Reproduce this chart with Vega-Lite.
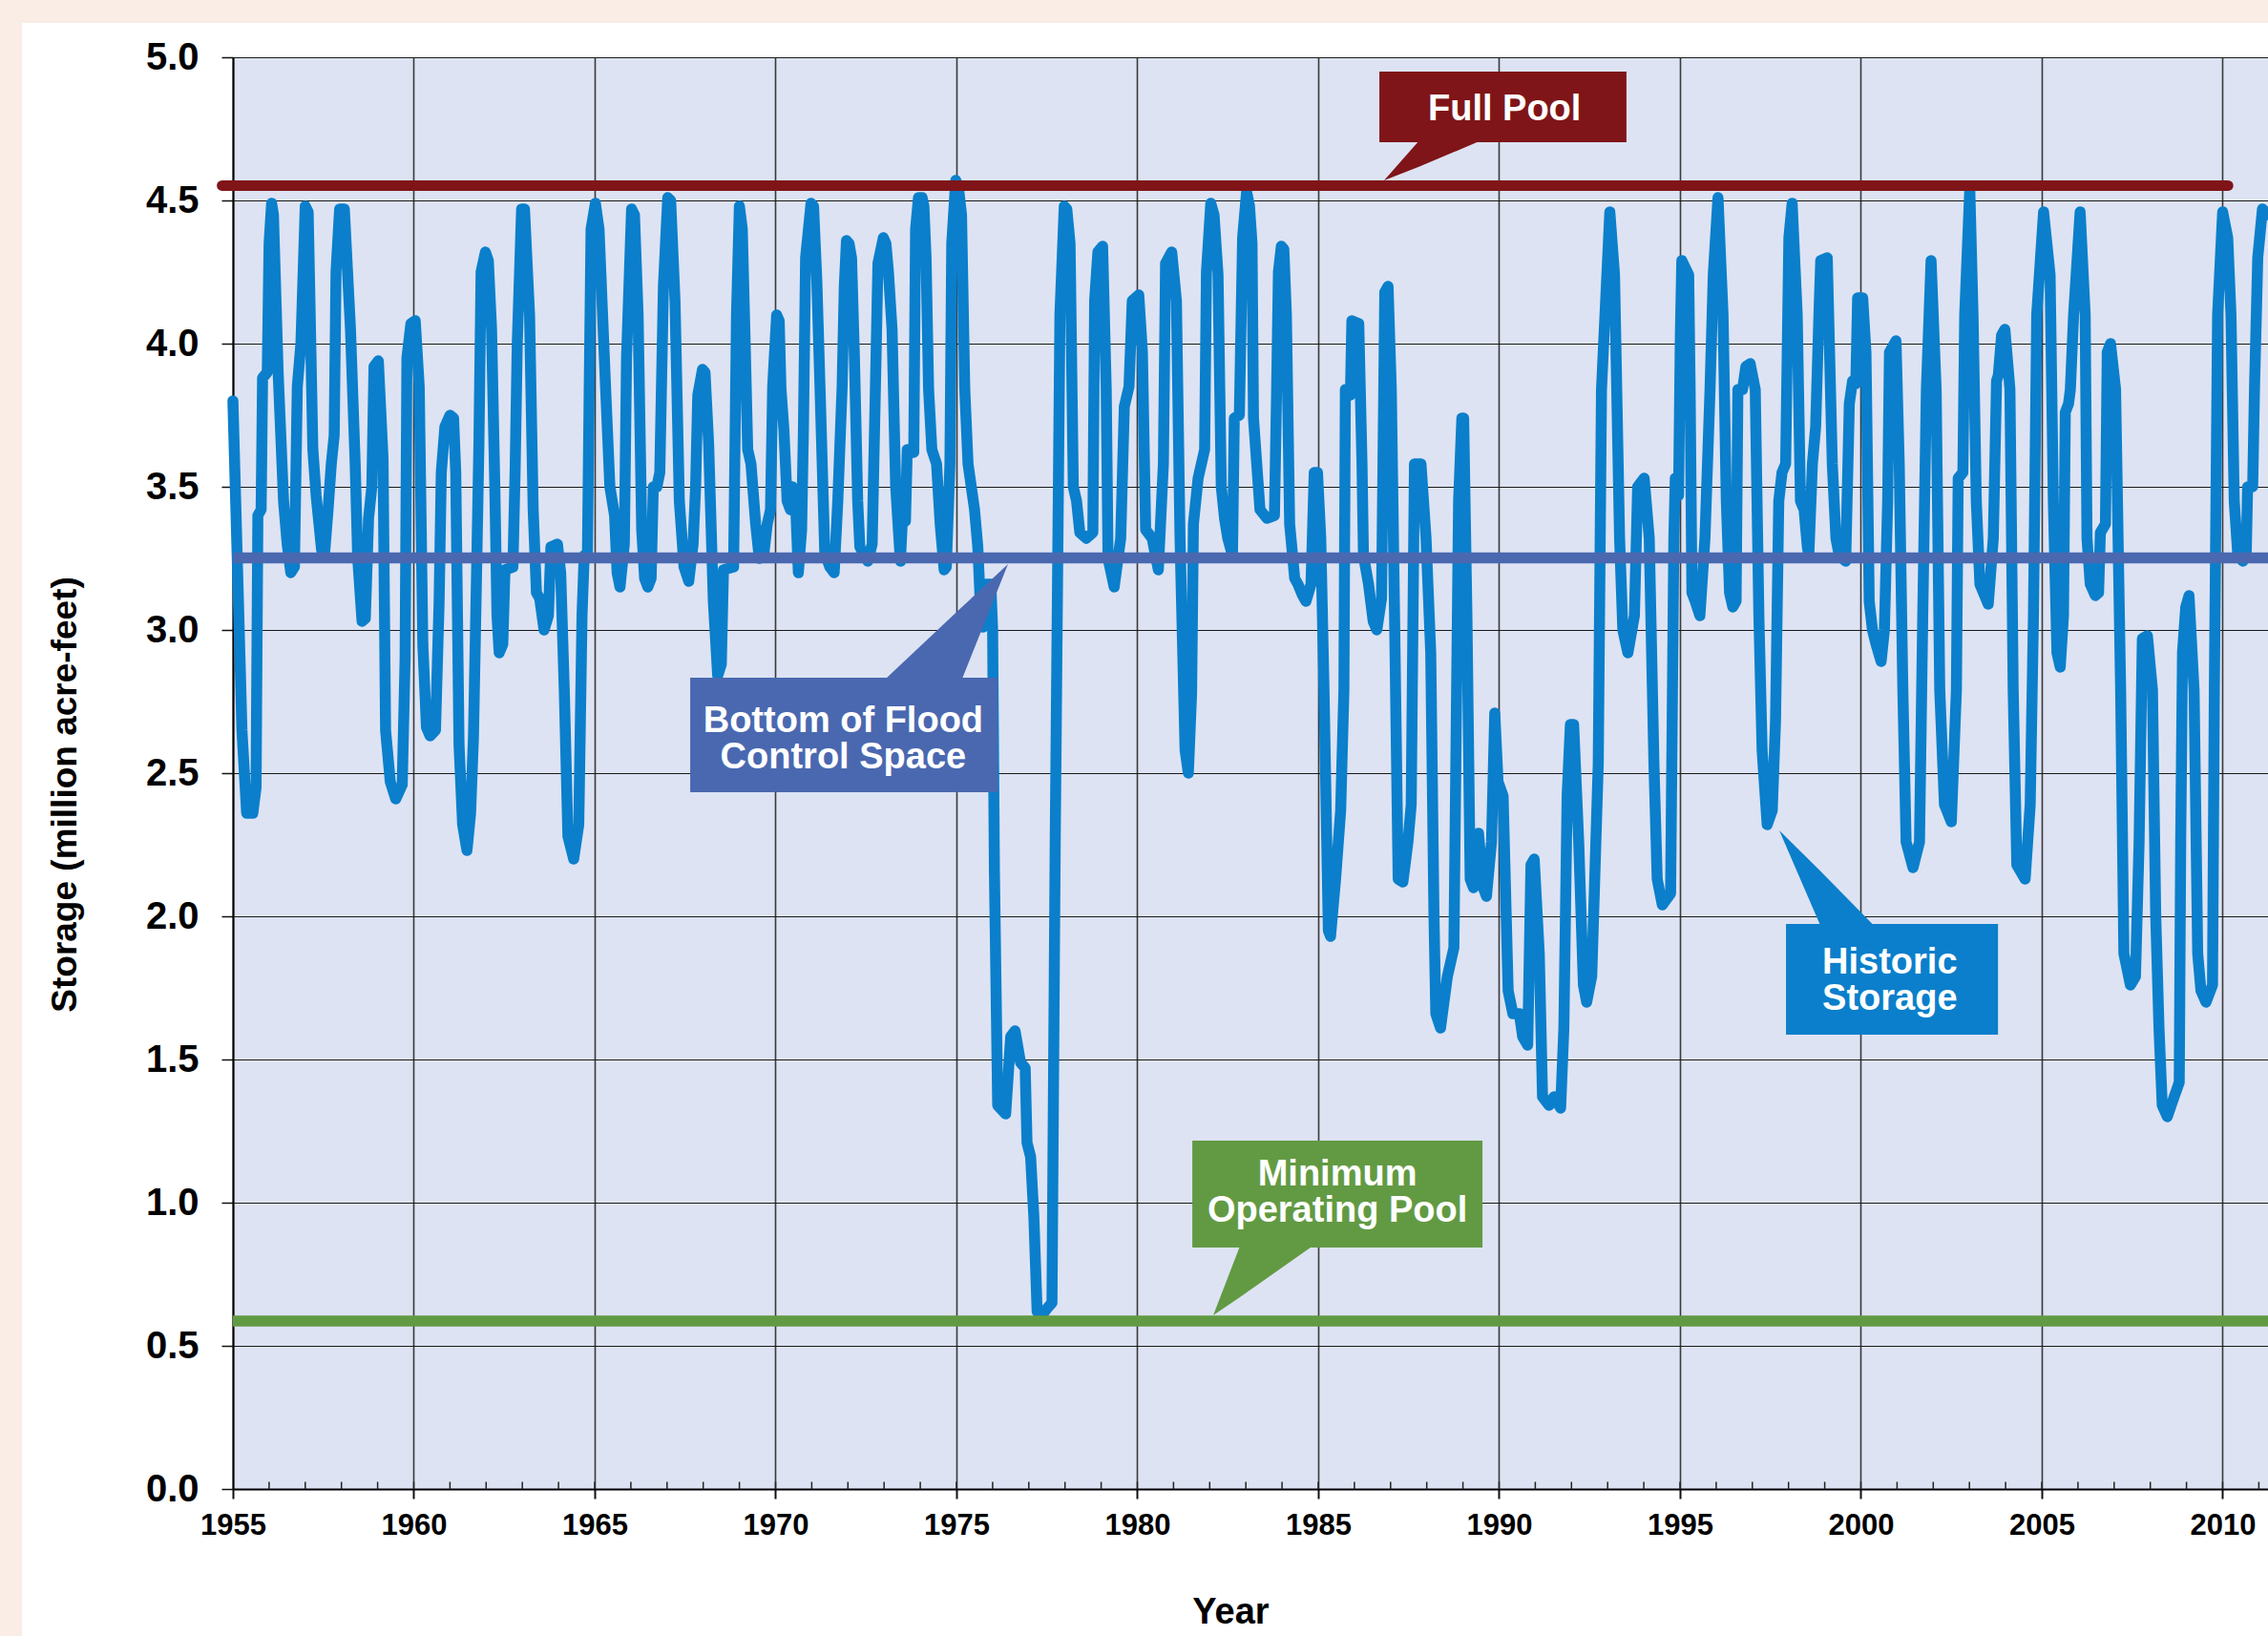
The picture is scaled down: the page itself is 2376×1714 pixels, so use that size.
{
  "$schema": "https://vega.github.io/schema/vega-lite/v6.json",
  "width": 2132,
  "height": 1500,
  "autosize": {"type": "none"},
  "padding": {"left": 244, "top": 60, "right": 0, "bottom": 154},
  "background": "#ffffff",
  "config": {
    "view": {"fill": "#dde3f3", "stroke": null},
    "font": "Liberation Sans",
    "axis": {"labelFont": "Liberation Sans", "titleFont": "Liberation Sans", "labelColor": "#000000", "titleColor": "#000000", "labelFontWeight": "bold", "titleFontWeight": "bold"},
    "axisX": {"domainColor": "#000000", "domainWidth": 2, "tickColor": "#111111", "tickWidth": 2, "tickSize": 10, "labelFontSize": 31, "labelPadding": 13, "gridColor": "#3a3a3a", "gridWidth": 1.6, "gridOpacity": 1, "titleFontSize": 38},
    "axisY": {"domainColor": "#000000", "domainWidth": 2, "tickColor": "#111111", "tickWidth": 1.5, "tickSize": 12, "labelFontSize": 40, "labelPadding": 24, "gridColor": "#1a1a1a", "gridWidth": 1.2, "gridOpacity": 1, "titleFontSize": 37}
  },
  "datasets": {
    "storage": [
      {"t":1955.00,"v":3.80},{"t":1955.12,"v":3.25},{"t":1955.25,"v":2.65},{"t":1955.38,"v":2.36},{"t":1955.55,"v":2.36},{"t":1955.64,"v":2.45},{"t":1955.69,"v":3.40},{"t":1955.78,"v":3.42},{"t":1955.82,"v":3.88},{"t":1955.95,"v":3.90},
      {"t":1956.00,"v":4.35},{"t":1956.07,"v":4.49},{"t":1956.12,"v":4.45},{"t":1956.25,"v":3.90},{"t":1956.40,"v":3.45},{"t":1956.50,"v":3.30},{"t":1956.60,"v":3.20},{"t":1956.70,"v":3.22},{"t":1956.78,"v":3.85},{"t":1956.88,"v":4.00},
      {"t":1957.00,"v":4.48},{"t":1957.08,"v":4.46},{"t":1957.21,"v":3.63},{"t":1957.30,"v":3.47},{"t":1957.45,"v":3.28},{"t":1957.53,"v":3.26},{"t":1957.63,"v":3.42},{"t":1957.72,"v":3.58},{"t":1957.80,"v":3.68},{"t":1957.85,"v":4.25},{"t":1957.95,"v":4.47},
      {"t":1958.08,"v":4.47},{"t":1958.25,"v":4.05},{"t":1958.38,"v":3.58},{"t":1958.45,"v":3.25},{"t":1958.57,"v":3.03},{"t":1958.66,"v":3.04},{"t":1958.75,"v":3.39},{"t":1958.84,"v":3.50},{"t":1958.90,"v":3.92},
      {"t":1959.02,"v":3.94},{"t":1959.15,"v":3.60},{"t":1959.22,"v":2.65},{"t":1959.35,"v":2.47},{"t":1959.50,"v":2.41},{"t":1959.68,"v":2.46},{"t":1959.76,"v":2.90},{"t":1959.81,"v":3.95},{"t":1959.92,"v":4.07},
      {"t":1960.04,"v":4.08},{"t":1960.15,"v":3.85},{"t":1960.25,"v":2.95},{"t":1960.35,"v":2.66},{"t":1960.45,"v":2.63},{"t":1960.60,"v":2.65},{"t":1960.70,"v":3.10},{"t":1960.76,"v":3.55},{"t":1960.86,"v":3.71},
      {"t":1961.00,"v":3.75},{"t":1961.10,"v":3.74},{"t":1961.16,"v":3.55},{"t":1961.25,"v":2.60},{"t":1961.35,"v":2.32},{"t":1961.47,"v":2.23},{"t":1961.57,"v":2.36},{"t":1961.65,"v":2.63},{"t":1961.75,"v":3.30},{"t":1961.80,"v":3.65},{"t":1961.86,"v":4.25},{"t":1961.98,"v":4.32},
      {"t":1962.06,"v":4.29},{"t":1962.15,"v":4.05},{"t":1962.24,"v":3.50},{"t":1962.30,"v":3.05},{"t":1962.36,"v":2.92},{"t":1962.46,"v":2.95},{"t":1962.52,"v":3.21},{"t":1962.74,"v":3.22},{"t":1962.80,"v":3.55},{"t":1962.86,"v":4.00},{"t":1962.98,"v":4.47},
      {"t":1963.06,"v":4.47},{"t":1963.20,"v":4.10},{"t":1963.30,"v":3.42},{"t":1963.39,"v":3.13},{"t":1963.48,"v":3.11},{"t":1963.60,"v":3.00},{"t":1963.72,"v":3.05},{"t":1963.79,"v":3.29},{"t":1963.97,"v":3.30},
      {"t":1964.06,"v":3.20},{"t":1964.16,"v":2.79},{"t":1964.26,"v":2.28},{"t":1964.42,"v":2.20},{"t":1964.56,"v":2.32},{"t":1964.65,"v":3.05},{"t":1964.71,"v":3.26},{"t":1964.80,"v":3.27},{"t":1964.85,"v":3.85},{"t":1964.90,"v":4.40},
      {"t":1965.02,"v":4.49},{"t":1965.12,"v":4.40},{"t":1965.30,"v":3.85},{"t":1965.42,"v":3.50},{"t":1965.55,"v":3.40},{"t":1965.62,"v":3.20},{"t":1965.70,"v":3.15},{"t":1965.82,"v":3.30},{"t":1965.88,"v":3.95},
      {"t":1966.02,"v":4.47},{"t":1966.10,"v":4.45},{"t":1966.20,"v":4.10},{"t":1966.30,"v":3.35},{"t":1966.38,"v":3.18},{"t":1966.47,"v":3.15},{"t":1966.56,"v":3.18},{"t":1966.62,"v":3.50},{"t":1966.72,"v":3.50},{"t":1966.80,"v":3.55},{"t":1966.90,"v":4.20},
      {"t":1967.02,"v":4.51},{"t":1967.10,"v":4.50},{"t":1967.22,"v":4.15},{"t":1967.34,"v":3.45},{"t":1967.47,"v":3.22},{"t":1967.60,"v":3.17},{"t":1967.72,"v":3.30},{"t":1967.79,"v":3.50},{"t":1967.85,"v":3.82},{"t":1967.98,"v":3.91},
      {"t":1968.05,"v":3.90},{"t":1968.15,"v":3.65},{"t":1968.28,"v":3.10},{"t":1968.40,"v":2.84},{"t":1968.50,"v":2.88},{"t":1968.56,"v":3.21},{"t":1968.84,"v":3.22},{"t":1968.92,"v":4.10},
      {"t":1969.00,"v":4.48},{"t":1969.08,"v":4.40},{"t":1969.15,"v":4.05},{"t":1969.23,"v":3.63},{"t":1969.32,"v":3.58},{"t":1969.45,"v":3.37},{"t":1969.55,"v":3.25},{"t":1969.68,"v":3.27},{"t":1969.77,"v":3.37},{"t":1969.86,"v":3.42},{"t":1969.92,"v":3.85},
      {"t":1970.03,"v":4.10},{"t":1970.10,"v":4.08},{"t":1970.15,"v":3.84},{"t":1970.23,"v":3.70},{"t":1970.32,"v":3.45},{"t":1970.41,"v":3.42},{"t":1970.46,"v":3.50},{"t":1970.55,"v":3.45},{"t":1970.63,"v":3.20},{"t":1970.72,"v":3.35},{"t":1970.77,"v":3.70},{"t":1970.83,"v":4.30},{"t":1970.98,"v":4.49},
      {"t":1971.05,"v":4.48},{"t":1971.14,"v":4.22},{"t":1971.23,"v":3.84},{"t":1971.36,"v":3.27},{"t":1971.50,"v":3.22},{"t":1971.62,"v":3.20},{"t":1971.72,"v":3.45},{"t":1971.84,"v":3.85},{"t":1971.90,"v":4.20},{"t":1971.96,"v":4.36},
      {"t":1972.03,"v":4.35},{"t":1972.10,"v":4.30},{"t":1972.18,"v":3.95},{"t":1972.27,"v":3.45},{"t":1972.33,"v":3.29},{"t":1972.45,"v":3.26},{"t":1972.55,"v":3.24},{"t":1972.67,"v":3.30},{"t":1972.76,"v":3.85},{"t":1972.83,"v":4.28},{"t":1972.98,"v":4.37},
      {"t":1973.05,"v":4.35},{"t":1973.12,"v":4.25},{"t":1973.22,"v":4.05},{"t":1973.32,"v":3.50},{"t":1973.45,"v":3.24},{"t":1973.50,"v":3.37},{"t":1973.59,"v":3.38},{"t":1973.64,"v":3.63},{"t":1973.82,"v":3.62},{"t":1973.87,"v":4.40},{"t":1973.95,"v":4.51},
      {"t":1974.05,"v":4.51},{"t":1974.10,"v":4.48},{"t":1974.16,"v":4.30},{"t":1974.23,"v":3.84},{"t":1974.32,"v":3.63},{"t":1974.45,"v":3.58},{"t":1974.55,"v":3.37},{"t":1974.66,"v":3.21},{"t":1974.72,"v":3.22},{"t":1974.82,"v":3.58},{"t":1974.87,"v":4.35},{"t":1974.98,"v":4.57},
      {"t":1975.05,"v":4.55},{"t":1975.14,"v":4.45},{"t":1975.23,"v":3.84},{"t":1975.32,"v":3.58},{"t":1975.50,"v":3.42},{"t":1975.59,"v":3.29},{"t":1975.65,"v":3.12},{"t":1975.73,"v":3.01},{"t":1975.82,"v":3.16},{"t":1975.95,"v":3.16},
      {"t":1976.00,"v":3.00},{"t":1976.05,"v":2.15},{"t":1976.14,"v":1.34},{"t":1976.36,"v":1.31},{"t":1976.50,"v":1.58},{"t":1976.62,"v":1.60},{"t":1976.77,"v":1.49},{"t":1976.90,"v":1.47},{"t":1976.95,"v":1.21},
      {"t":1977.05,"v":1.16},{"t":1977.14,"v":0.95},{"t":1977.23,"v":0.62},{"t":1977.32,"v":0.60},{"t":1977.50,"v":0.63},{"t":1977.64,"v":0.65},{"t":1977.73,"v":2.26},{"t":1977.86,"v":4.10},{"t":1977.98,"v":4.48},
      {"t":1978.05,"v":4.47},{"t":1978.14,"v":4.35},{"t":1978.23,"v":3.50},{"t":1978.32,"v":3.45},{"t":1978.41,"v":3.34},{"t":1978.59,"v":3.32},{"t":1978.77,"v":3.34},{"t":1978.82,"v":4.15},{"t":1978.91,"v":4.32},
      {"t":1979.04,"v":4.34},{"t":1979.14,"v":3.84},{"t":1979.19,"v":3.25},{"t":1979.36,"v":3.15},{"t":1979.54,"v":3.32},{"t":1979.64,"v":3.78},{"t":1979.77,"v":3.85},{"t":1979.86,"v":4.15},
      {"t":1980.04,"v":4.17},{"t":1980.14,"v":3.97},{"t":1980.23,"v":3.35},{"t":1980.41,"v":3.32},{"t":1980.58,"v":3.21},{"t":1980.72,"v":3.58},{"t":1980.78,"v":4.28},{"t":1980.95,"v":4.32},
      {"t":1981.08,"v":4.15},{"t":1981.18,"v":3.32},{"t":1981.32,"v":2.58},{"t":1981.41,"v":2.50},{"t":1981.50,"v":2.78},{"t":1981.55,"v":3.37},{"t":1981.68,"v":3.53},{"t":1981.86,"v":3.63},{"t":1981.91,"v":4.25},
      {"t":1982.03,"v":4.49},{"t":1982.12,"v":4.45},{"t":1982.23,"v":4.24},{"t":1982.32,"v":3.50},{"t":1982.41,"v":3.39},{"t":1982.50,"v":3.32},{"t":1982.63,"v":3.26},{"t":1982.68,"v":3.74},{"t":1982.82,"v":3.75},{"t":1982.91,"v":4.37},
      {"t":1983.02,"v":4.53},{"t":1983.10,"v":4.48},{"t":1983.17,"v":4.35},{"t":1983.21,"v":3.74},{"t":1983.30,"v":3.58},{"t":1983.39,"v":3.42},{"t":1983.58,"v":3.39},{"t":1983.79,"v":3.40},{"t":1983.85,"v":3.84},{"t":1983.90,"v":4.25},{"t":1983.98,"v":4.34},
      {"t":1984.05,"v":4.33},{"t":1984.12,"v":4.10},{"t":1984.21,"v":3.37},{"t":1984.35,"v":3.18},{"t":1984.44,"v":3.16},{"t":1984.57,"v":3.12},{"t":1984.66,"v":3.10},{"t":1984.80,"v":3.16},{"t":1984.89,"v":3.55},{"t":1984.98,"v":3.55},
      {"t":1985.07,"v":3.32},{"t":1985.16,"v":2.79},{"t":1985.28,"v":1.95},{"t":1985.34,"v":1.93},{"t":1985.48,"v":2.13},{"t":1985.62,"v":2.37},{"t":1985.71,"v":2.79},{"t":1985.75,"v":3.84},{"t":1985.89,"v":3.82},{"t":1985.93,"v":4.08},
      {"t":1986.12,"v":4.07},{"t":1986.21,"v":3.58},{"t":1986.25,"v":3.26},{"t":1986.39,"v":3.16},{"t":1986.52,"v":3.03},{"t":1986.62,"v":3.00},{"t":1986.75,"v":3.11},{"t":1986.84,"v":4.18},{"t":1986.93,"v":4.20},
      {"t":1987.02,"v":3.84},{"t":1987.11,"v":3.05},{"t":1987.21,"v":2.13},{"t":1987.34,"v":2.12},{"t":1987.48,"v":2.26},{"t":1987.57,"v":2.39},{"t":1987.66,"v":3.58},{"t":1987.84,"v":3.58},{"t":1987.98,"v":3.32},
      {"t":1988.11,"v":2.92},{"t":1988.20,"v":2.00},{"t":1988.25,"v":1.66},{"t":1988.38,"v":1.61},{"t":1988.57,"v":1.79},{"t":1988.66,"v":1.84},{"t":1988.75,"v":1.89},{"t":1988.88,"v":3.45},{"t":1988.97,"v":3.74},
      {"t":1989.02,"v":3.74},{"t":1989.11,"v":3.05},{"t":1989.20,"v":2.13},{"t":1989.29,"v":2.10},{"t":1989.43,"v":2.29},{"t":1989.56,"v":2.10},{"t":1989.65,"v":2.07},{"t":1989.79,"v":2.26},{"t":1989.88,"v":2.71},{"t":1989.97,"v":2.47},
      {"t":1990.11,"v":2.42},{"t":1990.25,"v":1.74},{"t":1990.38,"v":1.66},{"t":1990.56,"v":1.66},{"t":1990.65,"v":1.58},{"t":1990.79,"v":1.55},{"t":1990.88,"v":2.18},{"t":1990.97,"v":2.20},
      {"t":1991.11,"v":1.87},{"t":1991.20,"v":1.37},{"t":1991.38,"v":1.34},{"t":1991.52,"v":1.37},{"t":1991.70,"v":1.33},{"t":1991.79,"v":1.61},{"t":1991.88,"v":2.42},{"t":1991.97,"v":2.67},
      {"t":1992.06,"v":2.67},{"t":1992.20,"v":2.26},{"t":1992.33,"v":1.76},{"t":1992.42,"v":1.70},{"t":1992.56,"v":1.79},{"t":1992.74,"v":2.53},{"t":1992.83,"v":3.84},
      {"t":1993.06,"v":4.46},{"t":1993.19,"v":4.24},{"t":1993.33,"v":3.32},{"t":1993.42,"v":3.00},{"t":1993.56,"v":2.92},{"t":1993.74,"v":3.05},{"t":1993.83,"v":3.50},
      {"t":1994.01,"v":3.53},{"t":1994.15,"v":3.32},{"t":1994.28,"v":2.53},{"t":1994.37,"v":2.13},{"t":1994.51,"v":2.04},{"t":1994.74,"v":2.08},{"t":1994.83,"v":3.32},{"t":1994.87,"v":3.53},{"t":1994.96,"v":3.47},
      {"t":1995.01,"v":4.03},{"t":1995.05,"v":4.29},{"t":1995.24,"v":4.24},{"t":1995.28,"v":3.84},{"t":1995.33,"v":3.13},{"t":1995.42,"v":3.10},{"t":1995.55,"v":3.05},{"t":1995.69,"v":3.32},{"t":1995.83,"v":3.84},{"t":1995.92,"v":4.24},
      {"t":1996.05,"v":4.51},{"t":1996.19,"v":4.10},{"t":1996.28,"v":3.45},{"t":1996.37,"v":3.13},{"t":1996.46,"v":3.08},{"t":1996.55,"v":3.10},{"t":1996.60,"v":3.84},{"t":1996.73,"v":3.84},{"t":1996.82,"v":3.92},{"t":1996.94,"v":3.93},
      {"t":1997.08,"v":3.84},{"t":1997.18,"v":3.05},{"t":1997.27,"v":2.58},{"t":1997.41,"v":2.32},{"t":1997.55,"v":2.37},{"t":1997.64,"v":2.68},{"t":1997.73,"v":3.45},{"t":1997.82,"v":3.55},{"t":1997.92,"v":3.58},
      {"t":1998.01,"v":4.37},{"t":1998.10,"v":4.49},{"t":1998.24,"v":4.10},{"t":1998.33,"v":3.45},{"t":1998.43,"v":3.42},{"t":1998.52,"v":3.29},{"t":1998.56,"v":3.26},{"t":1998.66,"v":3.58},{"t":1998.75,"v":3.71},{"t":1998.84,"v":4.10},{"t":1998.89,"v":4.29},
      {"t":1999.07,"v":4.30},{"t":1999.21,"v":3.58},{"t":1999.31,"v":3.32},{"t":1999.40,"v":3.26},{"t":1999.58,"v":3.24},{"t":1999.68,"v":3.79},{"t":1999.77,"v":3.87},{"t":1999.86,"v":3.86},{"t":1999.91,"v":4.16},
      {"t":2000.05,"v":4.16},{"t":2000.14,"v":3.97},{"t":2000.23,"v":3.10},{"t":2000.32,"v":3.00},{"t":2000.42,"v":2.95},{"t":2000.56,"v":2.89},{"t":2000.65,"v":3.00},{"t":2000.74,"v":3.45},{"t":2000.79,"v":3.97},{"t":2000.97,"v":4.01},
      {"t":2001.06,"v":3.58},{"t":2001.16,"v":2.79},{"t":2001.25,"v":2.26},{"t":2001.44,"v":2.17},{"t":2001.62,"v":2.26},{"t":2001.71,"v":3.05},{"t":2001.81,"v":3.84},{"t":2001.94,"v":4.29},
      {"t":2002.08,"v":3.84},{"t":2002.18,"v":2.79},{"t":2002.31,"v":2.39},{"t":2002.50,"v":2.33},{"t":2002.64,"v":2.79},{"t":2002.69,"v":3.53},{"t":2002.82,"v":3.55},{"t":2002.87,"v":4.10},
      {"t":2003.01,"v":4.54},{"t":2003.10,"v":4.10},{"t":2003.19,"v":3.45},{"t":2003.29,"v":3.16},{"t":2003.52,"v":3.09},{"t":2003.66,"v":3.32},{"t":2003.75,"v":3.87},{"t":2003.80,"v":3.89},{"t":2003.89,"v":4.03},{"t":2003.98,"v":4.05},
      {"t":2004.12,"v":3.84},{"t":2004.21,"v":2.79},{"t":2004.31,"v":2.18},{"t":2004.54,"v":2.13},{"t":2004.68,"v":2.39},{"t":2004.77,"v":3.05},{"t":2004.86,"v":4.10},
      {"t":2005.05,"v":4.46},{"t":2005.23,"v":4.24},{"t":2005.32,"v":3.45},{"t":2005.42,"v":2.92},{"t":2005.51,"v":2.87},{"t":2005.60,"v":3.05},{"t":2005.65,"v":3.76},{"t":2005.74,"v":3.79},{"t":2005.79,"v":3.84},{"t":2005.88,"v":4.10},
      {"t":2006.06,"v":4.46},{"t":2006.20,"v":4.10},{"t":2006.25,"v":3.32},{"t":2006.34,"v":3.16},{"t":2006.48,"v":3.12},{"t":2006.57,"v":3.13},{"t":2006.62,"v":3.34},{"t":2006.76,"v":3.37},{"t":2006.81,"v":3.97},{"t":2006.90,"v":4.00},
      {"t":2007.04,"v":3.84},{"t":2007.18,"v":2.79},{"t":2007.27,"v":1.87},{"t":2007.45,"v":1.76},{"t":2007.59,"v":1.79},{"t":2007.69,"v":2.26},{"t":2007.78,"v":2.97},{"t":2007.92,"v":2.98},
      {"t":2008.06,"v":2.79},{"t":2008.15,"v":2.00},{"t":2008.24,"v":1.61},{"t":2008.33,"v":1.34},{"t":2008.47,"v":1.30},{"t":2008.66,"v":1.37},{"t":2008.80,"v":1.42},{"t":2008.84,"v":2.26},{"t":2008.89,"v":2.92},{"t":2008.98,"v":3.08},
      {"t":2009.07,"v":3.12},{"t":2009.21,"v":2.79},{"t":2009.31,"v":1.87},{"t":2009.40,"v":1.74},{"t":2009.54,"v":1.70},{"t":2009.72,"v":1.76},{"t":2009.77,"v":2.79},{"t":2009.86,"v":4.10},
      {"t":2010.00,"v":4.46},{"t":2010.14,"v":4.37},{"t":2010.23,"v":4.10},{"t":2010.32,"v":3.45},{"t":2010.42,"v":3.26},{"t":2010.56,"v":3.24},{"t":2010.65,"v":3.26},{"t":2010.69,"v":3.50},{"t":2010.83,"v":3.50},{"t":2010.88,"v":3.84},{"t":2010.97,"v":4.30},
      {"t":2011.10,"v":4.47},{"t":2011.25,"v":4.45}
    ],
    "levels": [
      {"level": "Full Pool", "storage": 4.552},
      {"level": "Bottom of Flood Control Space", "storage": 3.252},
      {"level": "Minimum Operating Pool", "storage": 0.587}
    ],
    "minor": [
      {"yr":1956},{"yr":1957},{"yr":1958},{"yr":1959},{"yr":1960},{"yr":1961},{"yr":1962},{"yr":1963},{"yr":1964},{"yr":1965},
      {"yr":1966},{"yr":1967},{"yr":1968},{"yr":1969},{"yr":1970},{"yr":1971},{"yr":1972},{"yr":1973},{"yr":1974},{"yr":1975},
      {"yr":1976},{"yr":1977},{"yr":1978},{"yr":1979},{"yr":1980},{"yr":1981},{"yr":1982},{"yr":1983},{"yr":1984},{"yr":1985},
      {"yr":1986},{"yr":1987},{"yr":1988},{"yr":1989},{"yr":1990},{"yr":1991},{"yr":1992},{"yr":1993},{"yr":1994},{"yr":1995},
      {"yr":1996},{"yr":1997},{"yr":1998},{"yr":1999},{"yr":2000},{"yr":2001},{"yr":2002},{"yr":2003},{"yr":2004},{"yr":2005},
      {"yr":2006},{"yr":2007},{"yr":2008},{"yr":2009},{"yr":2010},{"yr":2011}
    ],
    "boxes": [
      {"label": "Full Pool", "x": 1986.69, "x2": 1993.52, "y": 4.95, "y2": 4.703},
      {"label": "Bottom of Flood Control Space", "x": 1967.64, "x2": 1976.135, "y": 2.833, "y2": 2.433},
      {"label": "Historic Storage", "x": 1997.93, "x2": 2003.79, "y": 1.973, "y2": 1.587},
      {"label": "Minimum Operating Pool", "x": 1981.52, "x2": 1989.54, "y": 1.217, "y2": 0.843}
    ],
    "pointers": [
      {"label": "Full Pool", "px": 1986.821, "lo": 4.570, "hi": 4.570},
      {"label": "Full Pool", "px": 1987.797, "lo": 4.618, "hi": 4.710},
      {"label": "Full Pool", "px": 1989.512, "lo": 4.710, "hi": 4.710},
      {"label": "Bottom of Flood Control Space", "px": 1973.047, "lo": 2.830, "hi": 2.830},
      {"label": "Bottom of Flood Control Space", "px": 1975.158, "lo": 2.830, "hi": 3.081},
      {"label": "Bottom of Flood Control Space", "px": 1976.425, "lo": 3.230, "hi": 3.230},
      {"label": "Historic Storage", "px": 1997.744, "lo": 2.300, "hi": 2.300},
      {"label": "Historic Storage", "px": 1998.879, "lo": 1.968, "hi": 2.158},
      {"label": "Historic Storage", "px": 2000.356, "lo": 1.968, "hi": 1.968},
      {"label": "Minimum Operating Pool", "px": 1982.098, "lo": 0.607, "hi": 0.607},
      {"label": "Minimum Operating Pool", "px": 1982.836, "lo": 0.670, "hi": 0.848},
      {"label": "Minimum Operating Pool", "px": 1984.842, "lo": 0.848, "hi": 0.848}
    ],
    "texts": [
      {"line": "Full Pool", "tx": 1990.15, "ty": 4.78},
      {"line": "Bottom of Flood", "tx": 1971.87, "ty": 2.643},
      {"line": "Control Space", "tx": 1971.87, "ty": 2.517},
      {"line": "Historic", "tx": 2000.80, "ty": 1.80},
      {"line": "Storage", "tx": 2000.80, "ty": 1.673},
      {"line": "Minimum", "tx": 1985.53, "ty": 1.06},
      {"line": "Operating Pool", "tx": 1985.53, "ty": 0.933}
    ]
  },
  "layer": [
    {
      "data": {"name": "storage"},
      "mark": {"type": "line", "color": "#0b7fcb", "strokeWidth": 11.5, "strokeJoin": "round", "strokeCap": "round", "interpolate": "linear"},
      "encoding": {
        "x": {"field": "t", "type": "quantitative", "scale": {"domain": [1955, 2011.2533], "nice": false, "zero": false},
              "axis": {"values": [1955,1960,1965,1970,1975,1980,1985,1990,1995,2000,2005,2010], "format": "d", "title": "Year", "titleX": 1045, "titleY": 129, "titleBaseline": "middle", "titleAlign": "center", "labelFlush": false, "labelOverlap": false, "grid": true}},
        "y": {"field": "v", "type": "quantitative", "scale": {"domain": [0, 5], "nice": false, "zero": false},
              "axis": {"values": [0,0.5,1,1.5,2,2.5,3,3.5,4,4.5,5], "format": ".1f", "title": "Storage (million acre-feet)", "titleX": -176, "titleY": 772, "titleAngle": -90, "titleBaseline": "middle", "titleAlign": "center", "labelOverlap": false, "grid": true}}
      }
    },
    {
      "data": {"values": [{}]},
      "mark": {"type": "rect", "color": "#f9ede5", "clip": false},
      "encoding": {
        "x": {"datum": 1948.4, "type": "quantitative"},
        "x2": {"datum": 1949.17},
        "y": {"datum": 5.3, "type": "quantitative"},
        "y2": {"datum": -0.6}
      }
    },
    {
      "data": {"values": [{}]},
      "mark": {"type": "rect", "color": "#f9ede5", "clip": false},
      "encoding": {
        "x": {"datum": 1948.4, "type": "quantitative"},
        "x2": {"datum": 2013},
        "y": {"datum": 5.3, "type": "quantitative"},
        "y2": {"datum": 5.12}
      }
    },
    {
      "data": {"name": "minor"},
      "mark": {"type": "rule", "color": "#222222", "strokeWidth": 1.5},
      "encoding": {
        "x": {"field": "yr", "type": "quantitative"},
        "y": {"datum": 0, "type": "quantitative"},
        "y2": {"datum": 0.025}
      }
    },
    {
      "data": {"name": "levels"},
      "transform": [{"filter": "datum.level !== 'Full Pool'"}],
      "mark": {"type": "rule", "strokeWidth": 11.5, "strokeCap": "butt", "clip": false},
      "encoding": {
        "x": {"datum": 1955, "type": "quantitative"},
        "x2": {"datum": 2011.3},
        "y": {"field": "storage", "type": "quantitative"},
        "color": {"field": "level", "type": "nominal", "legend": null,
                  "scale": {"domain": ["Full Pool", "Bottom of Flood Control Space", "Historic Storage", "Minimum Operating Pool"], "range": ["#7f1518", "#4a68b0", "#0b7fcb", "#629a43"]}}
      }
    },
    {
      "data": {"name": "levels"},
      "transform": [{"filter": "datum.level === 'Full Pool'"}],
      "mark": {"type": "rule", "strokeWidth": 11, "strokeCap": "round", "clip": false},
      "encoding": {
        "x": {"datum": 1954.7, "type": "quantitative"},
        "x2": {"datum": 2010.15},
        "y": {"field": "storage", "type": "quantitative"},
        "color": {"field": "level", "type": "nominal", "legend": null}
      }
    },
    {
      "data": {"name": "pointers"},
      "mark": {"type": "area", "interpolate": "linear"},
      "encoding": {
        "x": {"field": "px", "type": "quantitative"},
        "y": {"field": "lo", "type": "quantitative", "stack": null},
        "y2": {"field": "hi"},
        "color": {"field": "label", "type": "nominal", "legend": null}
      }
    },
    {
      "data": {"name": "boxes"},
      "mark": {"type": "rect"},
      "encoding": {
        "x": {"field": "x", "type": "quantitative"},
        "x2": {"field": "x2"},
        "y": {"field": "y", "type": "quantitative"},
        "y2": {"field": "y2"},
        "color": {"field": "label", "type": "nominal", "legend": null}
      }
    },
    {
      "data": {"name": "texts"},
      "mark": {"type": "text", "color": "#ffffff", "font": "Liberation Sans", "fontSize": 38, "fontWeight": "bold", "align": "center", "baseline": "alphabetic"},
      "encoding": {
        "x": {"field": "tx", "type": "quantitative"},
        "y": {"field": "ty", "type": "quantitative"},
        "text": {"field": "line", "type": "nominal"}
      }
    }
  ]
}
